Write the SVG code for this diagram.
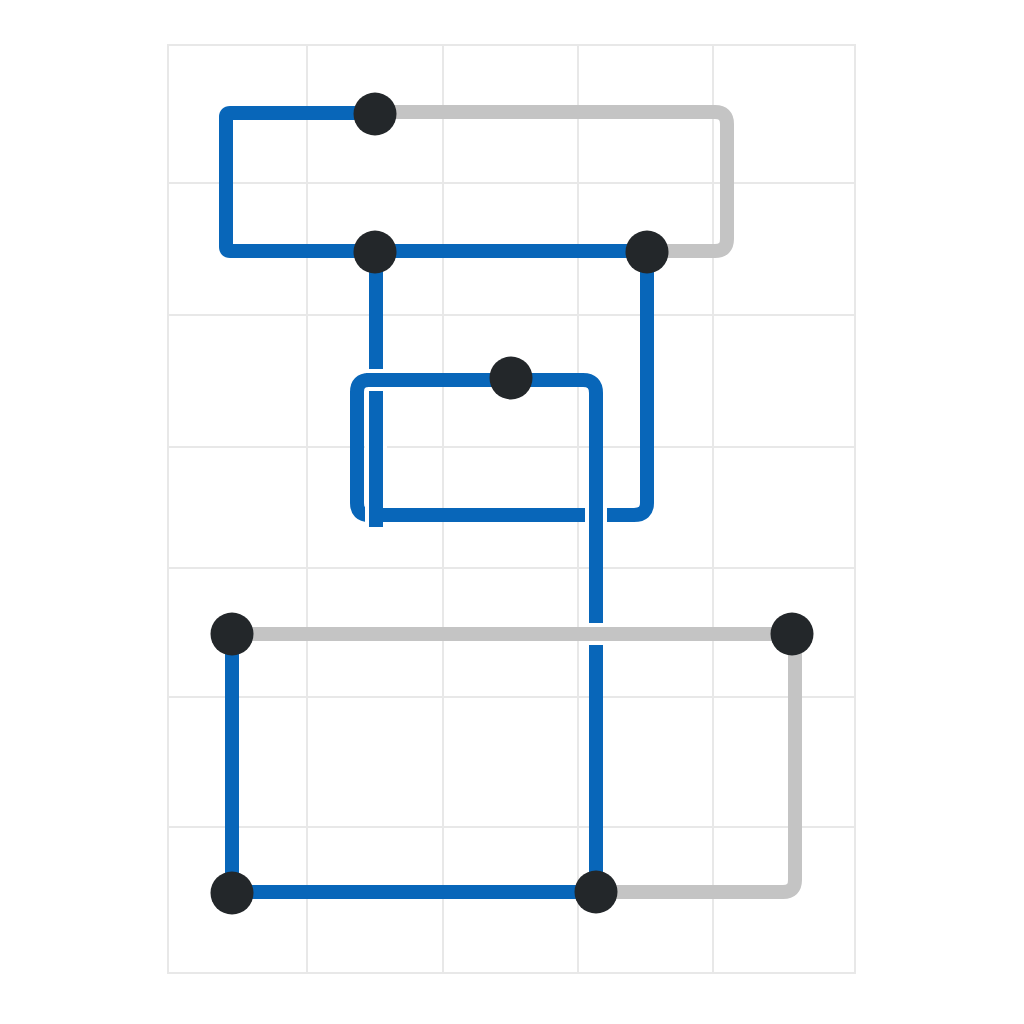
<svg xmlns="http://www.w3.org/2000/svg" width="1024" height="1024" viewBox="0 0 1024 1024">
<style>
.grid{stroke:#e8e8e8;stroke-width:2;fill:none}
.b{stroke:#0866b9;stroke-width:14;fill:none;stroke-linejoin:round}
.g{stroke:#c4c4c4;stroke-width:14;fill:none;stroke-linejoin:round}
.h{stroke:#ffffff;stroke-width:22;fill:none}
.n{fill:#23272a}
</style>
<rect width="1024" height="1024" fill="#ffffff"/>
<g id="grid" class="grid">
<rect x="168" y="45" width="687" height="928"/>
<path d="M307,45V973M443,45V973M578,45V973M713,45V973"/>
<path d="M168,183H855M168,315H855M168,447H855M168,568H855M168,697H855M168,827H855"/>
</g>
<g id="connectors">
<path class="g" d="M375,112H715Q727,112 727,124V239Q727,251 715,251H647"/>
<path class="b" d="M375,113H230Q226,113 226,117V247Q226,251 230,251H647"/>
<path class="b" d="M511,380H369Q357,380 357,392V503Q357,515 369,515H376"/>
<line class="h" x1="376" y1="395" x2="376" y2="528" stroke-linecap="butt"/>
<line class="b" x1="376" y1="252" x2="376" y2="527"/>
<path class="b" d="M383,515H634Q647,515 647,503V252"/>
<line class="h" x1="368" y1="380" x2="390" y2="380"/>
<line class="b" x1="366" y1="380" x2="392" y2="380"/>
<line class="h" x1="596" y1="504" x2="596" y2="526" stroke-width="19"/>
<path class="b" d="M511,380H583Q596,380 596,393V892"/>
<path class="b" d="M232,634V892H596"/>
<line class="h" x1="586" y1="634" x2="606" y2="634"/>
<line class="g" x1="232" y1="634" x2="792" y2="634"/>
<path class="g" d="M792,634H795V880Q795,892 783,892H596"/>
</g>
<g id="node-1"><circle class="n" cx="375" cy="114" r="21.5"/></g>
<g id="node-2"><circle class="n" cx="375" cy="252" r="21.5"/></g>
<g id="node-3"><circle class="n" cx="647" cy="252" r="21.5"/></g>
<g id="node-4"><circle class="n" cx="511" cy="378" r="21.5"/></g>
<g id="node-5"><circle class="n" cx="232" cy="634" r="21.5"/></g>
<g id="node-6"><circle class="n" cx="792" cy="634" r="21.5"/></g>
<g id="node-7"><circle class="n" cx="232" cy="893" r="21.5"/></g>
<g id="node-8"><circle class="n" cx="596" cy="892" r="21.5"/></g>
</svg>
